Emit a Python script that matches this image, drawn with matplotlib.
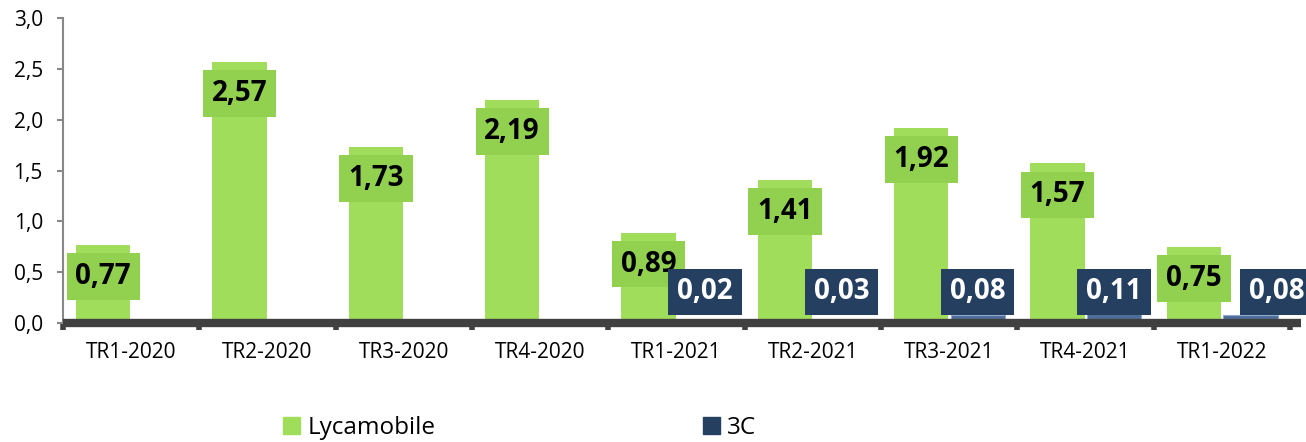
import matplotlib.pyplot as plt
from matplotlib.patches import Patch

# Data
quarters = ['TR1-2020', 'TR2-2020', 'TR3-2020', 'TR4-2020', 'TR1-2021',
            'TR2-2021', 'TR3-2021', 'TR4-2021', 'TR1-2022']
lyca = [0.77, 2.57, 1.73, 2.19, 0.89, 1.41, 1.92, 1.57, 0.75]
c3 = [None, None, None, None, 0.02, 0.03, 0.08, 0.11, 0.08]

plt.rcParams['font.family'] = ['Open Sans', 'DejaVu Sans']

fig = plt.figure(figsize=(13.06, 4.42), dpi=100)
ax = fig.add_axes([63/1306, 1-323/442, 1227/1306, 305/442])

green_bar = '#a0dd5a'
green_box = '#92d050'
blue_bar = '#4f6d9a'
blue_box = '#243f60'

x = list(range(len(quarters)))
w = 0.40
xg = [i - 0.205 for i in x]
xb = [i + 0.21 for i in x]

ax.bar(xg, lyca, width=w, color=green_bar, zorder=2)
for xi, v in zip(xb, c3):
    if v is not None:
        ax.bar(xi, v, width=w, color=blue_bar, edgecolor='#8fa9cf', linewidth=0.8, zorder=2)

# value labels
for xi, v in zip(xg, lyca):
    ax.text(xi, v - 0.31, f'{v:.2f}'.replace('.', ','), ha='center', va='center',
            fontsize=20, fontweight='bold', color='black', zorder=5,
            bbox=dict(boxstyle='square,pad=0.32', fc=green_box, ec='none'))
for i, (xi, v) in enumerate(zip(xb, c3)):
    if v is not None:
        # last label is pushed right so it does not overlap the green one
        shift = 0.19 if i == len(c3) - 1 else 0
        ax.text(xi + shift, 0.305, f'{v:.2f}'.replace('.', ','), ha='center', va='center',
                fontsize=20, fontweight='bold', color='white', zorder=5, clip_on=False,
                bbox=dict(boxstyle='square,pad=0.32', fc=blue_box, ec='none'))

ax.set_xlim(-0.5, len(quarters) - 0.5)
ax.set_ylim(0, 3.0)
ax.set_yticks([0, 0.5, 1.0, 1.5, 2.0, 2.5, 3.0])
ax.set_yticklabels([f'{t:.1f}'.replace('.', ',') for t in ax.get_yticks()], fontsize=15)

ax.set_xticks(x)
ax.set_xticklabels(quarters, fontsize=15)
ax.tick_params(axis='x', which='major', length=0, pad=14)
ax.set_xticks([i - 0.5 for i in range(len(quarters) + 1)], minor=True)
ax.tick_params(axis='x', which='minor', length=5, width=4, color='#404040')
ax.tick_params(axis='y', length=4.5, width=1.5, color='#888888', pad=10)

for s in ['top', 'right', 'bottom']:
    ax.spines[s].set_visible(False)
ax.spines['left'].set_color('#888888')
ax.spines['left'].set_linewidth(1.5)

# floor
ax.plot([-0.5, len(quarters) - 0.42], [0, 0], color='#404040', lw=6,
        zorder=3, clip_on=False, solid_capstyle='butt')

handles = [Patch(color=green_bar, label='Lycamobile'),
           Patch(color=blue_box, label='3C')]
fig.legend(handles=handles, loc='center left', bbox_to_anchor=(283/1306, 1-428/442),
           ncol=2, frameon=False, fontsize=17.5, handlelength=0.7, handleheight=0.7,
           handletextpad=0.3, columnspacing=11, borderpad=0, borderaxespad=0)

fig.savefig('out.png', dpi=100)
